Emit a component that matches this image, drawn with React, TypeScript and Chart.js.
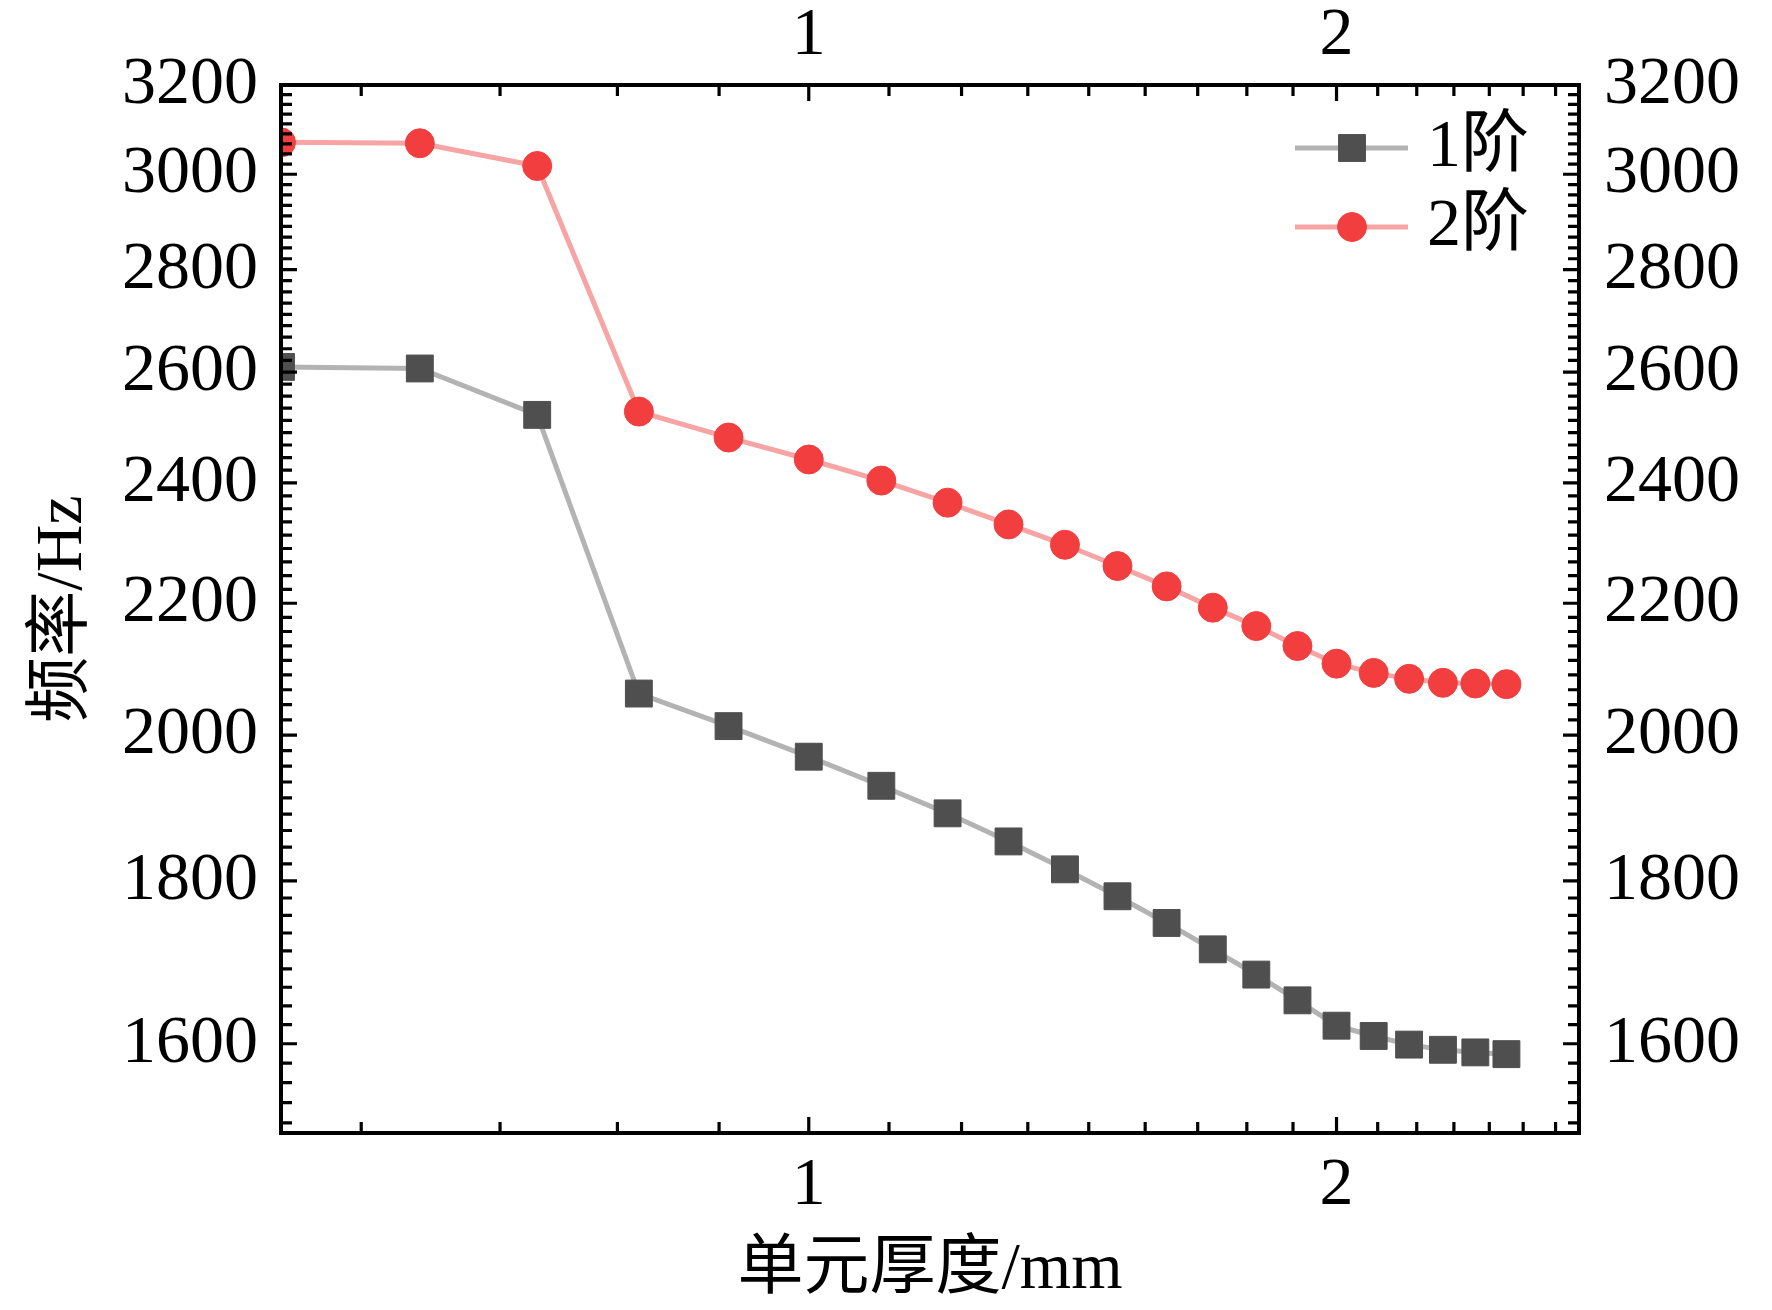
import React, { useEffect, useRef } from "react";
import { Chart, registerables } from "chart.js";
import { drawPoint } from "chart.js/helpers";

Chart.register(...registerables);

// 单元厚度 (mm)
const thickness = [0.5, 0.6, 0.7, 0.8, 0.9, 1.0, 1.1, 1.2, 1.3, 1.4, 1.5, 1.6, 1.7, 1.8, 1.9, 2.0, 2.1, 2.2, 2.3, 2.4, 2.5];
// 1阶 frequency (Hz)
const order1 = [2610, 2607, 2521, 2061, 2013, 1969, 1928, 1890, 1852, 1815, 1780, 1746, 1713, 1682, 1651, 1621, 1609, 1599, 1593, 1590, 1588];
// 2阶 frequency (Hz)
const order2 = [3070, 3068, 3018, 2527, 2480, 2441, 2404, 2366, 2329, 2295, 2260, 2227, 2193, 2164, 2133, 2106, 2092, 2083, 2077, 2076, 2075];

const seriesNames = ["1阶", "2阶"];
const xMajor = [1, 2];
const yMajor = [1600, 1800, 2000, 2200, 2400, 2600, 2800, 3000, 3200];

const X_MIN = 0.5;
const X_MAX = 2.75;
const Y_MIN = 1500;
const Y_MAX = 3200;

const SERIF = "'Liberation Serif', 'Times New Roman', 'Noto Sans CJK SC', serif";

// 8 minor ticks between majors (like Origin)
function minors(from: number, to: number, step: number, min: number, max: number) {
    const out: number[] = [];
    for (let b = from; b < to; b += step) {
        for (let j = 1; j <= 8; j++) {
            const v = b + (j * step) / 9;
            if (v > min && v < max) out.push(v);
        }
    }
    return out;
}
const xMinor = minors(0, 3, 1, X_MIN, X_MAX);
const yMinor = minors(1400, 3200, 200, Y_MIN, Y_MAX);

const tickFont = { family: SERIF, size: 68 };

function logAxis(position: string, min: number, max: number, majors: number[], pad: number, size: number, title?: any) {
    const horizontal = position === "top" || position === "bottom";
    return {
        type: "logarithmic",
        position,
        min,
        max,
        bounds: "data",
        grid: { display: false, drawTicks: false },
        border: { display: false },
        ticks: {
            font: tickFont,
            color: "#000",
            padding: pad,
            autoSkip: false,
            maxRotation: 0,
            callback: (v: number) => String(v),
        },
        title: title || { display: false },
        afterBuildTicks: (s: any) => {
            s.ticks = majors.map((v) => ({ value: v }));
        },
        afterFit: (s: any) => {
            if (horizontal) s.height = size;
            else s.width = size;
        },
    };
}

// inward ticks on all four sides + frame
const frameTicks = {
    id: "frameTicks",
    afterDatasetsDraw(chart: any) {
        const { ctx, chartArea: a, scales } = chart;
        const sx = scales.x;
        const sy = scales.y;
        ctx.save();
        ctx.strokeStyle = "#000";
        ctx.lineWidth = 3.2;
        ctx.beginPath();
        const xt = (v: number, len: number) => {
            const p = sx.getPixelForValue(v);
            ctx.moveTo(p, a.bottom);
            ctx.lineTo(p, a.bottom - len);
            ctx.moveTo(p, a.top);
            ctx.lineTo(p, a.top + len);
        };
        const yt = (v: number, len: number) => {
            const p = sy.getPixelForValue(v);
            ctx.moveTo(a.left, p);
            ctx.lineTo(a.left + len, p);
            ctx.moveTo(a.right, p);
            ctx.lineTo(a.right - len, p);
        };
        xMajor.forEach((v) => xt(v, 16));
        xMinor.forEach((v) => xt(v, 11));
        yMajor.forEach((v) => yt(v, 16));
        yMinor.forEach((v) => yt(v, 11));
        ctx.stroke();
        ctx.lineWidth = 4;
        ctx.strokeRect(a.left, a.top, a.right - a.left, a.bottom - a.top);
        ctx.restore();
    },
};

// legend inside the plot, top right
const insideLegend = {
    id: "insideLegend",
    afterDatasetsDraw(chart: any) {
        const { ctx, chartArea: a } = chart;
        chart.data.datasets.forEach((ds: any, i: number) => {
            const y = a.top + 63 + i * 79;
            ctx.save();
            ctx.strokeStyle = ds.borderColor;
            ctx.lineWidth = ds.borderWidth;
            ctx.beginPath();
            ctx.moveTo(a.right - 284, y);
            ctx.lineTo(a.right - 171, y);
            ctx.stroke();
            ctx.fillStyle = ds.pointBackgroundColor;
            ctx.strokeStyle = ds.pointBorderColor;
            ctx.lineWidth = ds.pointBorderWidth;
            drawPoint(ctx, { pointStyle: ds.pointStyle, radius: ds.pointRadius, rotation: 0, borderWidth: ds.pointBorderWidth }, a.right - 227, y);
            ctx.fillStyle = "#000";
            ctx.font = `68px ${SERIF}`;
            ctx.textAlign = "left";
            ctx.textBaseline = "middle";
            ctx.fillText(ds.label, a.right - 152, y);
            ctx.restore();
        });
    },
};

export default function App() {
    const canvasRef = useRef<HTMLCanvasElement | null>(null);

    useEffect(() => {
        document.body.style.margin = "0";
        const canvas = canvasRef.current;
        if (!canvas) return;
        const chart = new Chart(canvas, {
            type: "line",
            data: {
                datasets: [
                    {
                        label: seriesNames[0],
                        data: thickness.map((t, i) => ({ x: t, y: order1[i] })),
                        borderColor: "#b3b3b3",
                        borderWidth: 5,
                        pointStyle: "rect",
                        pointRadius: 19,
                        pointBackgroundColor: "#4f4f4f",
                        pointBorderColor: "#4f4f4f",
                        pointBorderWidth: 1,
                        tension: 0,
                        clip: 0,
                    },
                    {
                        label: seriesNames[1],
                        data: thickness.map((t, i) => ({ x: t, y: order2[i] })),
                        borderColor: "#f6a4a4",
                        borderWidth: 5,
                        pointStyle: "circle",
                        pointRadius: 14.5,
                        pointBackgroundColor: "#f23e3e",
                        pointBorderColor: "#f23e3e",
                        pointBorderWidth: 1,
                        tension: 0,
                        clip: 0,
                    },
                ],
            },
            options: {
                animation: false,
                responsive: false,
                devicePixelRatio: 1,
                layout: { padding: 0, autoPadding: false },
                plugins: {
                    legend: { display: false },
                    tooltip: { enabled: false },
                },
                scales: {
                    x: logAxis("bottom", X_MIN, X_MAX, xMajor, 12, 177, {
                        display: true,
                        text: "单元厚度/mm",
                        color: "#000",
                        font: { family: SERIF, size: 66 },
                        padding: { top: 0, bottom: 0 },
                    }),
                    x2: logAxis("top", X_MIN, X_MAX, xMajor, 8, 85),
                    y: logAxis("left", Y_MIN, Y_MAX, yMajor, 23, 281, {
                        display: true,
                        text: "频率/Hz",
                        color: "#000",
                        font: { family: SERIF, size: 66 },
                        padding: { top: 24, bottom: 0 },
                    }),
                    y2: logAxis("right", Y_MIN, Y_MAX, yMajor, 25, 193),
                },
            } as any,
            plugins: [insideLegend, frameTicks],
        } as any);
        return () => chart.destroy();
    }, []);

    return (
        <div style={{ width: 1772, height: 1310, background: "#fff" }}>
            <canvas ref={canvasRef} width={1772} height={1310} style={{ display: "block" }} />
        </div>
    );
}
